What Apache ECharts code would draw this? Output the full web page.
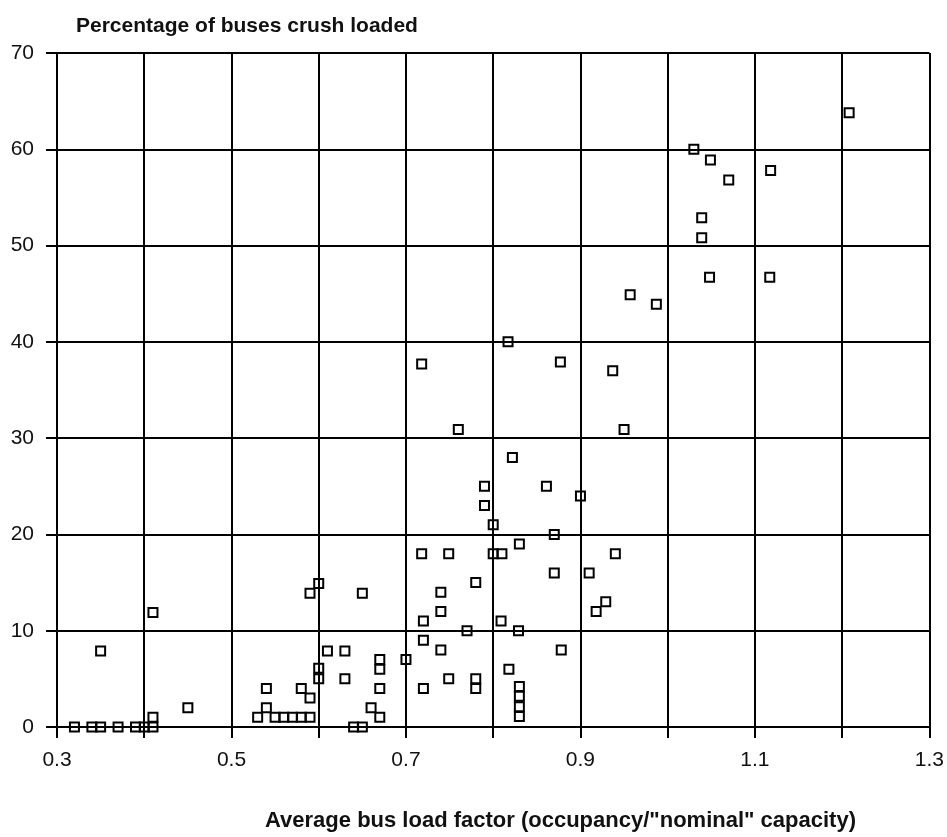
<!DOCTYPE html>
<html>
<head>
<meta charset="utf-8">
<script src="https://cdn.jsdelivr.net/npm/echarts@6/dist/echarts.min.js"></script>
<style>
html,body{margin:0;padding:0;background:#fff;}
#chart{width:947px;height:837px;}
</style>
</head>
<body>
<div id="chart"></div>
<script>
// Average bus load factor (x) and percentage of buses crush loaded (y)
const loadFactor = [
  0.32,0.34,0.35,0.37,0.39,0.40,0.41,0.41,0.35,0.41,0.45,0.47,0.48,0.49,
  0.53,0.55,0.56,0.57,0.58,0.59,0.57,0.54,0.54,0.58,0.59,0.60,0.60,0.59,0.60,0.65,
  0.61,0.63,0.63,0.67,0.67,0.67,0.66,0.67,0.64,0.65,
  0.718,0.817,0.877,0.937,0.76,0.95,0.822,0.79,0.861,0.90,0.79,0.80,0.87,0.83,
  0.718,0.749,0.80,0.81,0.94,0.78,0.87,0.91,0.74,0.74,0.929,0.918,0.72,0.809,
  0.77,0.829,0.72,0.74,0.878,0.70,0.818,0.749,0.78,0.78,0.72,0.83,0.83,0.83,0.83,
  0.957,0.987,1.03,1.049,1.07,1.118,1.039,1.039,1.048,1.117,1.208
];
const crushPct = [
  0,0,0,0,0,0,0,1.0,7.9,11.9,2.0,-0.1,-0.1,-0.1,
  1.0,1.0,1.0,1.0,1.0,1.0,-0.3,2.0,4.0,4.0,3.0,6.1,5.0,13.9,14.9,13.9,
  7.9,7.9,5.0,7.0,6.0,4.0,2.0,1.0,0,0,
  37.7,40.0,37.9,37.0,30.9,30.9,28.0,25.0,25.0,24.0,23.0,21.0,20.0,19.0,
  18.0,18.0,18.0,18.0,18.0,15.0,16.0,16.0,14.0,12.0,13.0,12.0,11.0,11.0,
  10.0,10.0,9.0,8.0,8.0,7.0,6.0,5.0,5.0,4.0,4.0,4.2,3.2,2.1,1.1,
  44.9,43.9,60.0,58.9,56.8,57.8,52.9,50.8,46.7,46.7,63.8
];
const titleText = 'Percentage of buses crush loaded';
const xAxisTitle = 'Average bus load factor (occupancy/"nominal" capacity)';

const points = loadFactor.map((x, i) => [x, crushPct[i]]);
const FONT = 'Liberation Sans, Arial, sans-serif';

const chart = echarts.init(document.getElementById('chart'), null, {renderer: 'canvas'});
chart.setOption({
  animation: false,
  backgroundColor: '#ffffff',
  title: [
    {text: titleText, left: 71, top: 11,
     textStyle: {fontFamily: FONT, fontSize: 21, fontWeight: 'bold', color: '#111'}},
    {text: xAxisTitle, left: 260, top: 805,
     textStyle: {fontFamily: FONT, fontSize: 22, fontWeight: 'bold', color: '#111'}}
  ],
  grid: {left: 57, right: 15, top: 53, bottom: 110, containLabel: false},
  xAxis: {
    type: 'value', min: 0.3, max: 1.3, interval: 0.1,
    axisLine: {show: true, onZero: false, lineStyle: {color: '#000', width: 2}},
    axisTick: {show: true, length: 11, lineStyle: {color: '#000', width: 2}},
    splitLine: {show: true, lineStyle: {color: '#000', width: 2}},
    axisLabel: {
      margin: 23, fontFamily: FONT, fontSize: 21, color: '#111',
      formatter: function (v) {
        const k = Math.round(v * 10);
        return (k % 2 === 1) ? (k / 10).toFixed(1) : '';
      }
    }
  },
  yAxis: {
    type: 'value', min: 0, max: 70, interval: 10,
    axisLine: {show: true, lineStyle: {color: '#000', width: 2}},
    axisTick: {show: true, length: 11, lineStyle: {color: '#000', width: 2}},
    splitLine: {show: true, lineStyle: {color: '#000', width: 2}},
    axisLabel: {margin: 23, fontFamily: FONT, fontSize: 21, color: '#111'}
  },
  series: [{
    type: 'scatter',
    data: points,
    symbol: 'rect',
    symbolSize: 9,
    itemStyle: {color: 'rgba(0,0,0,0)', borderColor: '#000', borderWidth: 2, opacity: 1},
    z: 5
  }]
});
</script>
</body>
</html>
